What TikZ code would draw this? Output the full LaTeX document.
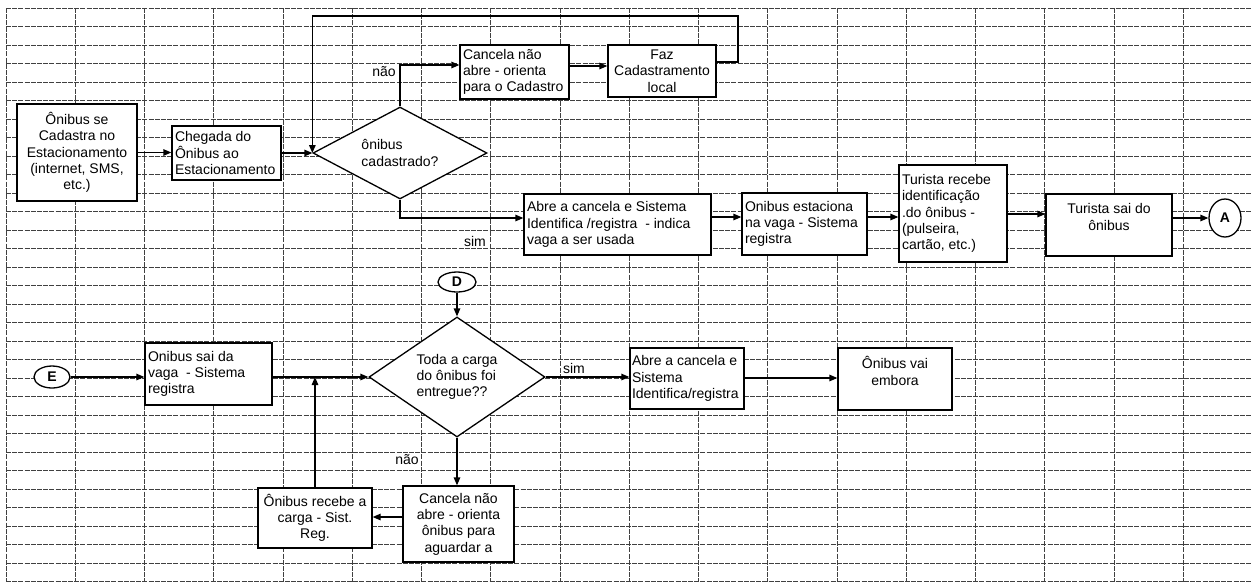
\documentclass[tikz,border=0pt]{standalone}
\usepackage{fontspec}
\setmainfont{Liberation Sans}
\usetikzlibrary{shapes.geometric,arrows.meta}
\begin{document}
\begin{tikzpicture}[x=1pt,y=-1pt,
  font=\fontsize{14}{16.3}\selectfont,
  grid/.style={draw=black!75, line width=0.6pt, dash pattern=on 5pt off 1.2pt},
  box/.style={draw=black, line width=1.3pt, fill=white, inner sep=3pt, rectangle},
  dec/.style={draw=black, line width=1.3pt, fill=white, shape=diamond, inner sep=0pt, align=flush left},
  conn/.style={draw=black, ellipse, line width=1.3pt, fill=white, inner sep=0pt, font=\fontsize{14}{16}\selectfont\bfseries},
  arr/.style={line width=1.3pt, -{Triangle[length=8pt,width=6.5pt]}},
  lbl/.style={inner sep=0pt}
]
\useasboundingbox (0,0) rectangle (1252,582);
\fill[white] (0,0) rectangle (1252,582);
% spreadsheet grid
\foreach \k in {0,...,31} \draw[grid] (6,{8+18.5*\k}) -- (1252,{8+18.5*\k});
\foreach \i in {0,...,17} \draw[grid] ({6+69.24*\i},8) -- ({6+69.24*\i},582);

% upper flow
\node[box, minimum width=120pt, minimum height=97pt, text width=114pt, align=flush center] (b1) at (77,152.5) {Ônibus se\\Cadastra no\\Estacionamento\\(internet, SMS,\\etc.)};
\node[box, minimum width=109pt, minimum height=54pt, text width=103pt, align=flush left] (b2) at (226.5,153) {Chegada do\\Ônibus ao\\Estacionamento};
\node[dec, minimum width=174pt, minimum height=92pt, aspect=1.9] (d1) at (400,153) {ônibus\\cadastrado?};
\node[box, minimum width=109pt, minimum height=54pt, text width=103pt, align=flush left] (b4) at (514.5,72) {Cancela não\\abre - orienta\\para o Cadastro};
\node[box, minimum width=108pt, minimum height=52pt, text width=102pt, align=flush center] (b5) at (662,71) {Faz\\Cadastramento\\local};
\node[box, minimum width=187pt, minimum height=61pt, text width=181pt, align=flush left] (b7) at (617.5,224.5) {Abre a cancela e Sistema\\Identifica /registra\ \ - indica\\vaga a ser usada};
\node[box, minimum width=125pt, minimum height=62pt, text width=119pt, align=flush left] (b8) at (804.5,224) {Onibus estaciona\\na vaga - Sistema\\registra};
\node[box, minimum width=108pt, minimum height=97pt, text width=102pt, align=flush left] (b9) at (953,213.5) {Turista recebe\\identificação\\.do ônibus -\\(pulseira,\\cartão, etc.)};
\node[box, minimum width=126pt, minimum height=62pt, text width=120pt, align=flush center] (b10) at (1109,225) {Turista sai do\\ônibus\\\mbox{}};
\node[conn, minimum width=32pt, minimum height=38pt] (A) at (1225,218) {A};

\coordinate (loopR) at (738,16);
\node[lbl] (l1) at (384,72) {não};
\node[lbl] (l2) at (475,241) {sim};

\draw[arr] (b1.east) -- (b1.east -| b2.west);
\draw[arr] (b2.east) -- (d1.west);
\draw[arr] (d1.north) |- (b4.west |- 0,65);
\draw[arr] (b4.east |- 0,66) -- (b5.west |- 0,66);
\draw[arr] (b5.east |- 0,62) -| (loopR) -| (d1.west);
\draw[arr] (d1.south) |- (b7.west |- 0,218);
\draw[arr] (b7.east |- 0,217) -- (b8.west |- 0,217);
\draw[arr] (b8.east |- 0,217) -- (b9.west |- 0,217);
\draw[arr] (b9.east |- 0,214) -- (b10.west |- 0,214);
\draw[arr] (b10.east |- A.west) -- (A.west);

% lower flow
\node[conn, minimum width=38pt, minimum height=20pt] (D) at (457,282) {D};
\node[dec, minimum width=176pt, minimum height=120pt, aspect=1.5] (d2) at (457,377) {Toda a carga\\do ônibus foi\\entregue??};
\node[conn, minimum width=36pt, minimum height=22pt] (E) at (52,377) {E};
\node[box, minimum width=127pt, minimum height=62pt, text width=121pt, align=flush left] (b17) at (208.5,374) {Onibus sai da\\vaga\ \ - Sistema\\registra};
\node[box, minimum width=114pt, minimum height=61pt, text width=110pt, inner sep=2pt, align=flush left] (b14) at (687,378.5) {Abre a cancela e\\Sistema\\Identifica/registra};
\node[box, minimum width=114pt, minimum height=62pt, text width=108pt, align=flush center] (b15) at (895,379) {Ônibus vai\\embora\\\mbox{}};
\node[box, minimum width=114pt, minimum height=60pt, text width=108pt, align=flush center] (b18) at (315,518) {Ônibus recebe a\\carga - Sist.\\Reg.};
\node[box, minimum width=111pt, minimum height=76pt, text width=105pt, align=flush center] (b19) at (458.5,524) {Cancela não\\abre - orienta\\ônibus para\\aguardar a};

\node[lbl] (l3) at (574,368) {sim};
\node[lbl] (l4) at (407,460) {não};

\draw[arr] (D.south) -- (d2.north);
\draw[arr] (E.east) -- (E.east -| b17.west);
\draw[arr] (b17.east |- d2.west) -- (d2.west);
\draw[arr] (b18.north) -- (b18.north |- d2.west);
\draw[arr] (d2.east) -- (d2.east -| b14.west);
\draw[arr] (b14.east |- 0,378) -- (b15.west |- 0,378);
\draw[arr] (d2.south) -- (d2.south |- b19.north);
\draw[arr] (b19.west |- 0,517) -- (b18.east |- 0,517);
\end{tikzpicture}
\end{document}
